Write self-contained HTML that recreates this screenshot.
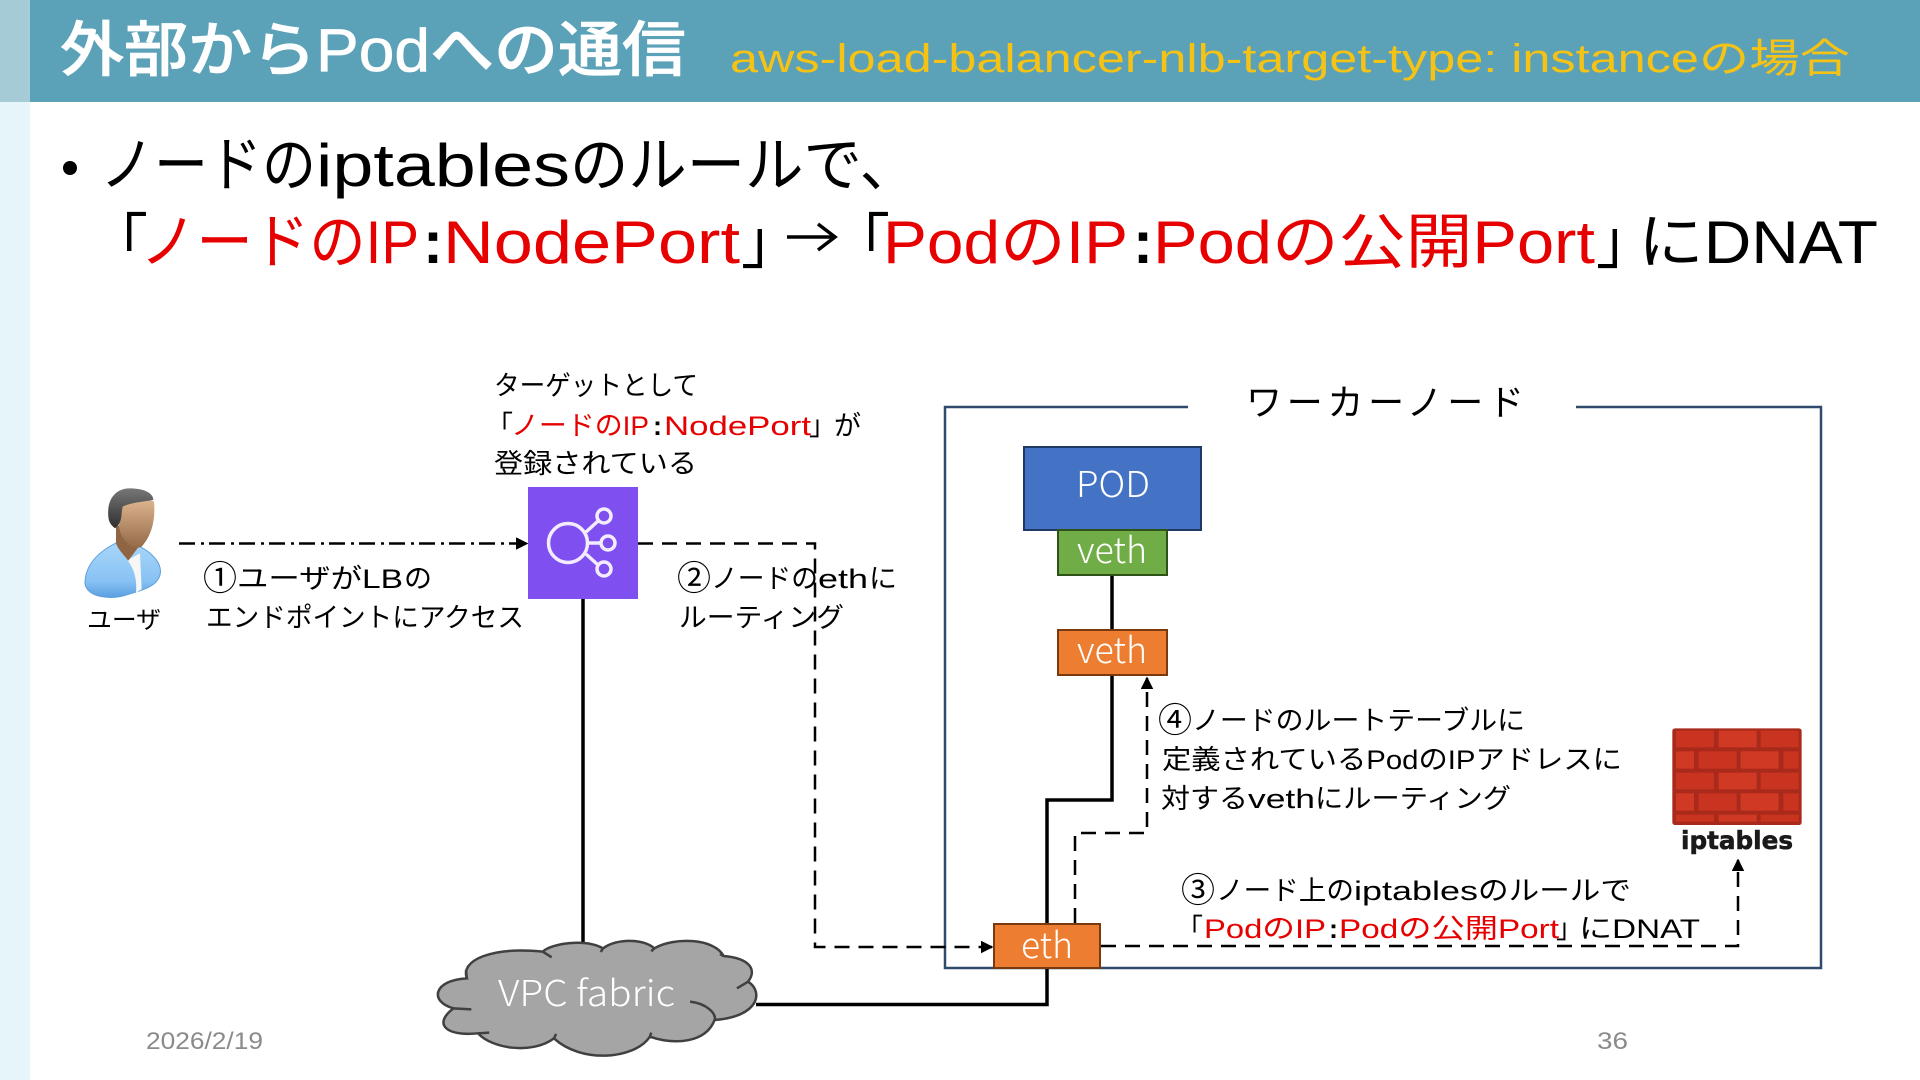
<!DOCTYPE html>
<html lang="ja"><head><meta charset="utf-8"><title>外部からPodへの通信</title>
<style>
html,body{margin:0;padding:0;background:#fff;width:1920px;height:1080px;overflow:hidden}
svg{display:block}
text{font-family:"Liberation Sans","Noto Sans CJK JP",sans-serif;white-space:pre}
.h{font-size:60px;fill:#000}
.t{font-size:27px;fill:#000}
.c{font-size:34px;fill:#000}
.w{fill:#fff}
.l{font-family:"Noto Sans CJK JP","Liberation Sans",sans-serif;font-weight:300;font-size:36px;fill:#fff}
text.r{fill:#e60000}
</style></head><body>
<svg width="1920" height="1080" viewBox="0 0 1920 1080" xmlns="http://www.w3.org/2000/svg">
<defs>
<marker id="a" markerWidth="5" markerHeight="5" refX="4.4" refY="2.5" orient="auto" markerUnits="strokeWidth"><path d="M0,0L5,2.5L0,5Z" fill="#000"/></marker>
<linearGradient id="bd" x1="0" y1="0" x2="0" y2="1"><stop offset="0" stop-color="#a8d6fa"/><stop offset="0.7" stop-color="#88c2f4"/><stop offset="1" stop-color="#5a9fe0"/></linearGradient>
<linearGradient id="fc" x1="0" y1="0" x2="0" y2="1"><stop offset="0" stop-color="#dcb48e"/><stop offset="1" stop-color="#946a48"/></linearGradient>
<linearGradient id="hr" x1="0" y1="0" x2="0" y2="1"><stop offset="0" stop-color="#777"/><stop offset="1" stop-color="#2e2e2e"/></linearGradient>
</defs>

<rect x="0" y="102" width="30" height="978" fill="#e6f5f9"/>
<rect x="0" y="0" width="30" height="102" fill="#a5cbd6"/>
<rect x="30" y="0" width="1890" height="102" fill="#5ba1b8"/>

<text x="60" y="71" font-size="60" font-weight="500" fill="#fff" stroke="#fff" stroke-width="0.7" textLength="626" lengthAdjust="spacingAndGlyphs">外部からPodへの通信</text>
<text x="730" y="72" font-size="40" fill="#f5c216" textLength="1120" lengthAdjust="spacingAndGlyphs">aws-load-balancer-nlb-target-type: instanceの場合</text>

<circle cx="70" cy="168" r="7" fill="#000"/>
<text class="h" x="100" y="186" textLength="216" lengthAdjust="spacingAndGlyphs">ノードの</text>
<text class="h" x="316" y="186" textLength="254" lengthAdjust="spacingAndGlyphs">iptables</text>
<text class="h" x="570" y="186" textLength="348" lengthAdjust="spacingAndGlyphs">のルールで、</text>

<text class="h" x="88" y="263">「</text>
<text class="h r" x="140" y="263" textLength="279" lengthAdjust="spacingAndGlyphs">ノードのIP</text>
<text class="h" x="423" y="263" font-weight="700">:</text>
<text class="h r" x="443" y="263" textLength="297" lengthAdjust="spacingAndGlyphs">NodePort</text>
<text class="h" x="741" y="263">」</text>
<path d="M787,237H835M818,224L835,237L818,250" fill="none" stroke="#000" stroke-width="3.5"/>
<text class="h" x="830" y="263">「</text>
<text class="h r" x="883" y="263" textLength="245" lengthAdjust="spacingAndGlyphs">PodのIP</text>
<text class="h" x="1133" y="263" font-weight="700">:</text>
<text class="h r" x="1153" y="263" textLength="442" lengthAdjust="spacingAndGlyphs">Podの公開Port</text>
<text class="h" x="1596" y="263">」</text>
<text class="h" x="1638" y="263" textLength="240" lengthAdjust="spacingAndGlyphs">にDNAT</text>

<!-- Worker box -->
<path d="M1188,407H945V968H1821V407H1576" fill="none" stroke="#2f4a6d" stroke-width="2.5"/>
<text x="1246" y="415" font-size="36" fill="#000" textLength="278" lengthAdjust="spacing">ワーカーノード</text>

<!-- solid lines -->
<g fill="none" stroke="#000" stroke-width="3.5">
<path d="M583,599V945"/>
<path d="M756,1004.5H1047V969"/>
<path d="M1047,923V800H1112V676"/>
<path d="M1112,576V629"/>
</g>

<!-- dashed -->
<g fill="none" stroke="#000" stroke-width="2.5">
<path d="M179,543.5H527" stroke-dasharray="16 6 3 5" marker-end="url(#a)"/>
<path d="M638,543.5H815V947H992" stroke-dasharray="15 9" marker-end="url(#a)"/>
<path d="M1075,923V833H1147V678" stroke-dasharray="15 9" marker-end="url(#a)"/>
<path d="M1101,946H1738V860" stroke-dasharray="15 9" marker-end="url(#a)"/>
</g>

<!-- Person -->
<g transform="translate(60,360) scale(0.3333)">
<path d="M75,670C75,615 115,575 170,548L240,560C280,580 305,612 301,640C295,678 250,690 205,703C150,722 80,712 75,670Z" fill="url(#bd)" stroke="#5f9fdc" stroke-width="3"/>
<path d="M202,600L240,580L245,688L228,698C232,660 222,625 202,600Z" fill="#f6f6f6"/>
<path d="M168,490L240,555L205,602C192,585 172,565 168,550Z" fill="#8f6544"/>
<path d="M180,430C210,420 260,415 282,425C286,470 280,520 245,560C225,570 205,555 190,535C175,515 170,470 180,430Z" fill="url(#fc)"/>
<path d="M145,470C140,420 165,385 210,385C250,385 280,398 280,420C250,425 210,428 188,440C182,470 188,485 165,505C152,495 146,485 145,470Z" fill="url(#hr)"/>
</g>
<text x="87" y="628" font-size="24" fill="#000" textLength="74" lengthAdjust="spacingAndGlyphs">ユーザ</text>

<text class="c" x="203" y="590">①</text>
<text class="t" x="237" y="588" textLength="125" lengthAdjust="spacingAndGlyphs">ユーザが</text>
<text class="t" x="362" y="588" textLength="41" lengthAdjust="spacingAndGlyphs">LB</text>
<text class="t" x="404" y="588" textLength="28" lengthAdjust="spacingAndGlyphs">の</text>
<text class="t" x="206" y="627" textLength="318" lengthAdjust="spacingAndGlyphs">エンドポイントにアクセス</text>

<text class="t" x="494" y="395" textLength="204" lengthAdjust="spacingAndGlyphs">ターゲットとして</text>
<text class="t" x="486" y="435">「</text>
<text class="t r" x="511" y="435" textLength="138" lengthAdjust="spacingAndGlyphs">ノードのIP</text>
<text class="t" x="653" y="435" font-weight="700">:</text>
<text class="t r" x="664" y="435" textLength="147" lengthAdjust="spacingAndGlyphs">NodePort</text>
<text class="t" x="809" y="435">」</text>
<text class="t" x="834" y="435">が</text>
<text class="t" x="494" y="473" textLength="203" lengthAdjust="spacingAndGlyphs">登録されている</text>

<!-- LB icon -->
<rect x="528" y="487" width="110" height="112" fill="#7f4ff0"/>
<g fill="none" stroke="#f3ecff" stroke-width="3.5">
<circle cx="568" cy="543" r="19.5"/>
<circle cx="604" cy="516" r="7"/>
<circle cx="608" cy="543" r="7"/>
<circle cx="604" cy="569" r="7"/>
<path d="M586,532L598,521M587.5,543H601M586,554L598,565"/>
</g>

<text class="c" x="677" y="590">②</text>
<text class="t" x="711" y="588" textLength="107" lengthAdjust="spacingAndGlyphs">ノードの</text>
<text class="t" x="818" y="588" textLength="50" lengthAdjust="spacingAndGlyphs">eth</text>
<text class="t" x="869" y="588" textLength="28" lengthAdjust="spacingAndGlyphs">に</text>
<text class="t" x="679" y="627" textLength="165" lengthAdjust="spacingAndGlyphs">ルーティング</text>

<!-- Boxes -->
<rect x="1024" y="447" width="177" height="83" fill="#4472c4" stroke="#1f3864" stroke-width="2"/>
<text class="l" x="1076" y="497" textLength="74" lengthAdjust="spacingAndGlyphs">POD</text>
<rect x="1058" y="530" width="109" height="45" fill="#70ad47" stroke="#2f5219" stroke-width="2"/>
<text class="l" x="1077" y="563" textLength="70" lengthAdjust="spacingAndGlyphs">veth</text>
<rect x="1058" y="630" width="109" height="45" fill="#ed7d31" stroke="#7a3a10" stroke-width="2"/>
<text class="l" x="1077" y="663" textLength="70" lengthAdjust="spacingAndGlyphs">veth</text>
<rect x="994" y="924" width="106" height="44" fill="#ed7d31" stroke="#7a3a10" stroke-width="2"/>
<text class="l" x="1021" y="958" textLength="52" lengthAdjust="spacingAndGlyphs">eth</text>

<!-- Cloud -->
<g transform="translate(420,880) scale(0.4464,0.3333)">
<path vector-effect="non-scaling-stroke" d="M105,295C90,240 160,200 275,215C295,190 370,175 410,205C440,175 500,175 525,205C570,170 660,175 680,228C740,235 755,270 735,305C770,335 760,410 660,420C640,490 570,495 515,470C480,540 360,550 300,475C250,525 160,505 130,460C55,470 30,430 75,385C20,365 30,300 105,295Z" fill="#a5a5a5" stroke="#404040" stroke-width="2.5"/>
<path vector-effect="non-scaling-stroke" d="M275,215L295,232M410,205L405,216M525,205L518,214M680,228L672,222M735,305L710,325M660,420C665,400 640,370 605,365M515,470L518,458M300,475L305,462M130,460L155,458M75,385L115,388M105,295L103,270" fill="none" stroke="#404040" stroke-width="2.5"/>
</g>
<text class="l" x="498" y="1006" textLength="177" lengthAdjust="spacingAndGlyphs">VPC fabric</text>

<!-- Text 4 -->
<text class="c" x="1158" y="732">④</text>
<text class="t" x="1192" y="730" textLength="333" lengthAdjust="spacingAndGlyphs">ノードのルートテーブルに</text>
<text class="t" x="1162" y="769" textLength="460" lengthAdjust="spacingAndGlyphs">定義されているPodのIPアドレスに</text>
<text class="t" x="1161" y="808" textLength="87" lengthAdjust="spacingAndGlyphs">対する</text>
<text class="t" x="1248" y="808" textLength="67" lengthAdjust="spacingAndGlyphs">veth</text>
<text class="t" x="1315" y="808" textLength="196" lengthAdjust="spacingAndGlyphs">にルーティング</text>

<!-- Text 3 -->
<text class="c" x="1181" y="902">③</text>
<text class="t" x="1216" y="900" textLength="138" lengthAdjust="spacingAndGlyphs">ノード上の</text>
<text class="t" x="1354" y="900" textLength="124" lengthAdjust="spacingAndGlyphs">iptables</text>
<text class="t" x="1478" y="900" textLength="153" lengthAdjust="spacingAndGlyphs">のルールで</text>
<text class="t" x="1176" y="938">「</text>
<text class="t r" x="1204" y="938" textLength="122" lengthAdjust="spacingAndGlyphs">PodのIP</text>
<text class="t" x="1329" y="938" font-weight="700">:</text>
<text class="t r" x="1339" y="938" textLength="220" lengthAdjust="spacingAndGlyphs">Podの公開Port</text>
<text class="t" x="1556" y="938">」</text>
<text class="t" x="1579" y="938" textLength="121" lengthAdjust="spacingAndGlyphs">にDNAT</text>

<!-- Firewall -->
<g transform="translate(1640,710) scale(0.3333)">
<rect x="97" y="55" width="388" height="290" rx="8" fill="#a92a1a"/>
<g fill="#c8341f">
<rect x="108" y="62" width="114" height="50"/><rect x="236" y="62" width="114" height="50" fill="#d03a25"/><rect x="362" y="62" width="114" height="50"/>
<rect x="108" y="124" width="54" height="52" fill="#d03a25"/><rect x="176" y="124" width="114" height="52"/><rect x="302" y="124" width="114" height="52" fill="#d03a25"/><rect x="430" y="124" width="46" height="52"/>
<rect x="108" y="188" width="114" height="50"/><rect x="236" y="188" width="114" height="50" fill="#d03a25"/><rect x="362" y="188" width="114" height="50"/>
<rect x="108" y="250" width="54" height="52" fill="#d03a25"/><rect x="176" y="250" width="114" height="52"/><rect x="302" y="250" width="114" height="52" fill="#d03a25"/><rect x="430" y="250" width="46" height="52"/>
<rect x="108" y="314" width="114" height="21"/><rect x="236" y="314" width="114" height="21" fill="#d03a25"/><rect x="362" y="314" width="114" height="21"/>
</g>
</g>
<text x="1681" y="849" font-size="25" font-weight="700" fill="#1a1a1a" stroke="#1a1a1a" stroke-width="0.6" textLength="112" lengthAdjust="spacingAndGlyphs" style="font-family:'DejaVu Sans',sans-serif">iptables</text>

<!-- Footer -->
<text x="146" y="1049" font-size="24" fill="#8b8b8b" textLength="117" lengthAdjust="spacingAndGlyphs">2026/2/19</text>
<text x="1597" y="1049" font-size="24" fill="#8b8b8b" textLength="31" lengthAdjust="spacingAndGlyphs">36</text>
</svg>
</body></html>
